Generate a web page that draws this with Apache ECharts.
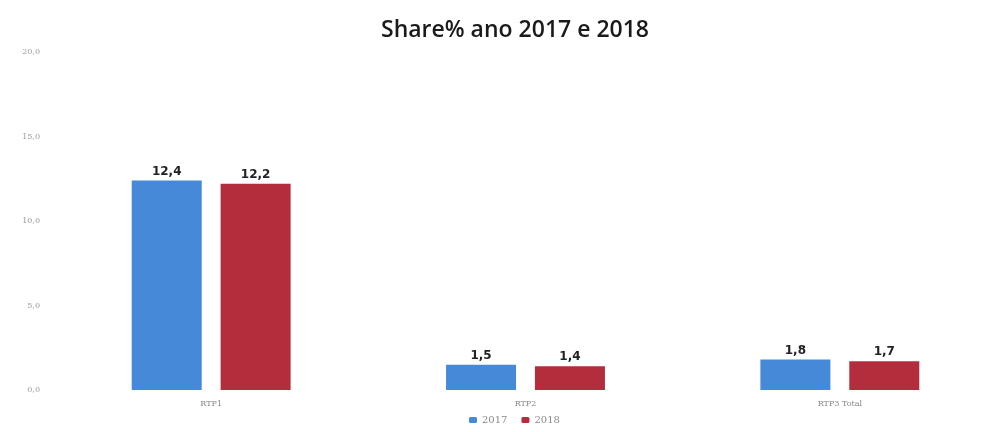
<!DOCTYPE html>
<html><head><meta charset="utf-8">
<script src="https://cdn.jsdelivr.net/npm/echarts@6/dist/echarts.min.js"></script>
<style>html,body{margin:0;padding:0;background:#fff}#c{width:1003px;height:432px}</style>
</head><body><div id="c"></div>
<script>
const categories = ['RTP1', 'RTP2', 'RTP3 Total'];
const values2017 = [12.4, 1.5, 1.8];
const values2018 = [12.2, 1.4, 1.7];
const yTicks = { min: 0, max: 20, interval: 5 };

const fmt = v => Number(v).toFixed(1).replace('.', ',');
const chart = echarts.init(document.getElementById('c'));
const labelStyle = { show: true, position: 'top', distance: 3, formatter: p => fmt(p.value),
  fontFamily: 'DejaVu Sans', fontWeight: 'bold', fontSize: 12, color: '#222' };
chart.setOption({
  animation: false,
  backgroundColor: '#fff',
  title: { text: 'Share% ano 2017 e 2018', left: 510, top: 14, textAlign: 'center',
    textStyle: { fontFamily: 'Open Sans', fontWeight: 600, fontSize: 23, color: '#1a1a1a' } },
  grid: { left: 54, right: 6, top: 52, bottom: 42 },
  legend: { bottom: 2, left: 464, itemWidth: 8, itemHeight: 6, itemGap: 14,
    textStyle: { fontFamily: 'DejaVu Serif', fontSize: 10, color: '#888' } },
  xAxis: { type: 'category', data: categories,
    axisLine: { show: false }, axisTick: { show: false },
    axisLabel: { margin: 10, fontFamily: 'DejaVu Serif', fontSize: 8, color: '#888' } },
  yAxis: { type: 'value', min: yTicks.min, max: yTicks.max, interval: yTicks.interval,
    splitLine: { show: false }, axisLine: { show: false }, axisTick: { show: false },
    axisLabel: { formatter: v => fmt(v), margin: 14, fontFamily: 'DejaVu Serif', fontSize: 8, color: '#999' } },
  series: [
    { name: '2017', type: 'bar', data: values2017, barWidth: 70, barGap: '27%',
      itemStyle: { color: '#4789d9' }, label: labelStyle },
    { name: '2018', type: 'bar', data: values2018, barWidth: 70,
      itemStyle: { color: '#b42d3c' }, label: labelStyle }
  ]
});
</script></body></html>
